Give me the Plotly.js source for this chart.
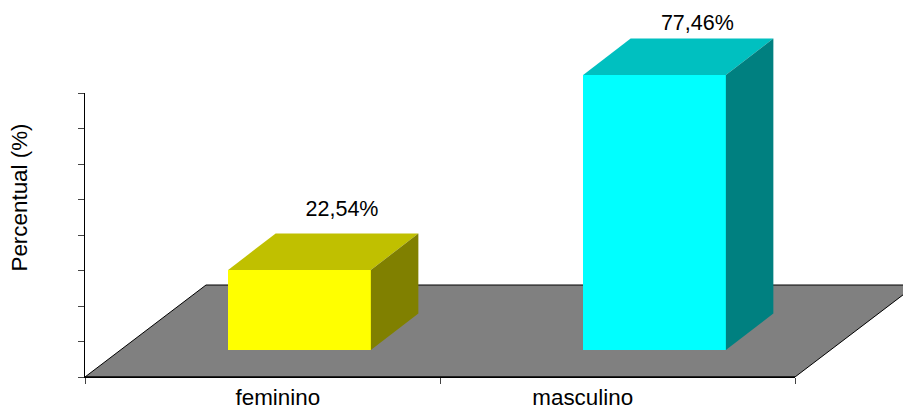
<!DOCTYPE html>
<html>
<head>
<meta charset="utf-8">
<script src="https://cdn.plot.ly/plotly-3.0.1.min.js"></script>
<style>html,body{margin:0;padding:0;background:#fff}</style>
</head>
<body>
<div id="chart" style="width:903px;height:407px"></div>
<script>
// Distribution by sex, drawn as an extruded column chart on a sloped floor.
const categories = ['feminino', 'masculino'];
const percentages = [22.54, 77.46];
const frontColors = ['#FFFF00', '#00FFFF'];
const topColors = ['#C0C000', '#00C0C0'];
const sideColors = ['#808000', '#008080'];
const valueTicks = [0, 10, 20, 30, 40, 50, 60, 70, 80];
const categoryTicks = [0, 1, 2];

// Canvas geometry in pixels
const W = 903, H = 407;
const M = {l: 85, r: 0, t: 18, b: 30};
const PX_PER_CATEGORY = 355, PX_PER_PERCENT = 3.55;
const plotW = W - M.l - M.r, plotH = H - M.t - M.b;

// Extrusion, in axis units
const FLOOR_DX = 121 / PX_PER_CATEGORY, FLOOR_DY = 92 / PX_PER_PERCENT;
const BAR_DX = 47.5 / PX_PER_CATEGORY, BAR_DY = 36.5 / PX_PER_PERCENT;
const LIFT_DX = 37 / PX_PER_CATEGORY, LIFT_DY = 27 / PX_PER_PERCENT;
const BAR_WIDTH = 0.402;

// Text placement, in axis units
const valueLabelX = [0.724, 1.725];
const valueLabelY = [47.0, 99.4];
const categoryLabelX = [0.543, 1.402];
const FONT = 'Liberation Sans, Arial, sans-serif';

const centers = categories.map((_, i) => i + 0.5 + LIFT_DX);

const faces = [];
percentages.forEach((v, i) => {
  const x0 = centers[i] - BAR_WIDTH / 2, x1 = centers[i] + BAR_WIDTH / 2;
  const yb = LIFT_DY, yt = LIFT_DY + v;
  // Top face
  faces.push({
    type: 'scatter', mode: 'lines', fill: 'toself', fillcolor: topColors[i],
    line: {width: 0}, hoverinfo: 'skip', showlegend: false,
    x: [x0, x1, x1 + BAR_DX, x0 + BAR_DX, x0],
    y: [yt, yt, yt + BAR_DY, yt + BAR_DY, yt]
  });
  // Right-hand face
  faces.push({
    type: 'scatter', mode: 'lines', fill: 'toself', fillcolor: sideColors[i],
    line: {width: 0}, hoverinfo: 'skip', showlegend: false,
    x: [x1, x1 + BAR_DX, x1 + BAR_DX, x1, x1],
    y: [yb, yb + BAR_DY, yt + BAR_DY, yt, yb]
  });
});

const traces = [
  {
    type: 'bar', x: centers, y: percentages, base: LIFT_DY, width: BAR_WIDTH,
    marker: {color: frontColors, line: {width: 0}}, showlegend: false, hoverinfo: 'skip'
  },
  ...faces,
  {
    type: 'scatter', mode: 'text', x: valueLabelX, y: valueLabelY,
    text: percentages.map(v => v.toFixed(2).replace('.', ',') + '%'),
    textposition: 'middle center', cliponaxis: false,
    textfont: {family: FONT, size: 21.5, color: '#000'},
    showlegend: false, hoverinfo: 'skip'
  },
  {
    // Front edge of the floor, carried by the visible axis pair
    type: 'scatter', mode: 'lines', xaxis: 'x2', yaxis: 'y2',
    x: [categoryTicks[0], categoryTicks[2]], y: [0, 0],
    line: {color: '#000', width: 1}, showlegend: false, hoverinfo: 'skip',
    cliponaxis: false
  }
];

const layout = {
  width: W, height: H, margin: M,
  paper_bgcolor: '#fff', plot_bgcolor: 'rgba(0,0,0,0)',
  showlegend: false, bargap: 0,
  font: {family: FONT, color: '#000', size: 22},
  xaxis: {
    range: [0, plotW / PX_PER_CATEGORY], showgrid: false, zeroline: false, showline: false,
    tickmode: 'array', tickvals: categoryLabelX, ticktext: categories,
    ticks: 'outside', ticklen: 0.5, tickcolor: 'rgba(0,0,0,0)',
    tickfont: {family: FONT, size: 22.4, color: '#000'}
  },
  yaxis: {
    range: [0, plotH / PX_PER_PERCENT], showgrid: false, zeroline: false, showline: false,
    showticklabels: false, ticks: '',
    title: {text: 'Percentual (%)', font: {family: FONT, size: 22.4, color: '#000'}, standoff: 50}
  },
  // Visible axes: separate subplot so they can stop short of the floor's depth
  xaxis2: {
    anchor: 'y2', domain: [0, (categoryTicks[2] * PX_PER_CATEGORY) / plotW],
    range: [categoryTicks[0], categoryTicks[2]], showgrid: false, zeroline: false,
    showline: true, linecolor: '#000', linewidth: 1,
    tickmode: 'array', tickvals: categoryTicks, showticklabels: false,
    ticks: 'outside', ticklen: 6, tickcolor: '#444', tickwidth: 1
  },
  yaxis2: {
    anchor: 'x2', domain: [0, (valueTicks[8] * PX_PER_PERCENT) / plotH],
    range: [valueTicks[0], valueTicks[8]], showgrid: false, zeroline: false,
    showline: true, linecolor: '#000', linewidth: 1,
    tickmode: 'array', tickvals: valueTicks, showticklabels: false,
    ticks: 'outside', ticklen: 6, tickcolor: '#444', tickwidth: 1
  },
  shapes: [{
    // Floor plane underneath the columns
    type: 'path', layer: 'below', xref: 'x', yref: 'y',
    path: `M0,0 L${categoryTicks[2]},0 L${categoryTicks[2] + FLOOR_DX},${FLOOR_DY} L${FLOOR_DX},${FLOOR_DY} Z`,
    fillcolor: '#808080', line: {color: '#000', width: 1}
  }]
};

Plotly.newPlot('chart', traces, layout, {displayModeBar: false, staticPlot: true});
</script>
</body>
</html>
